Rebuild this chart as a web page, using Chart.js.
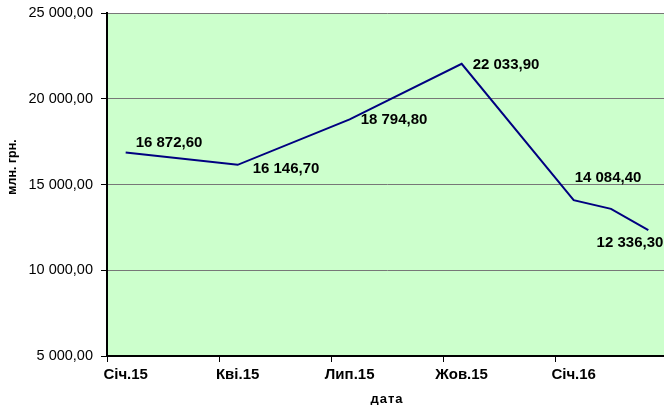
<!DOCTYPE html>
<html>
<head>
<meta charset="utf-8">
<script src="https://cdn.jsdelivr.net/npm/chart.js@4/dist/chart.umd.min.js"></script>
<style>
html,body{margin:0;padding:0;background:#fff;overflow:hidden;}
#wrap{width:667px;height:405px;position:relative;}
</style>
</head>
<body>
<div id="wrap"><canvas id="c"></canvas></div>
<script>
// Categories (months), only every third one is labelled on the axis
const months = ['Січ.15','Лют.15','Бер.15','Кві.15','Тра.15','Чер.15','Лип.15','Сер.15','Вер.15','Жов.15','Лис.15','Гру.15','Січ.16','Лют.16','Бер.16'];
// Series values, млн. грн. (null = no observation for that month)
const values = [16872.6, null, null, 16146.7, null, null, 18794.8, null, null, 22033.9, null, null, 14084.4, 13580, 12336.3];
// Which points carry a data label
const labelled = [true, false, false, true, false, false, true, false, false, true, false, false, true, false, true];
// Y axis ticks
const yTicks = [5000, 10000, 15000, 20000, 25000];

// label placement style (dx, dy, align) per point
const labelStyle = {
  0: [10, -10, 'left'],
  3: [15, 4, 'left'],
  6: [11, 0, 'left'],
  9: [11, 1, 'left'],
  12: [1, -22, 'left'],
  14: [15, 13, 'right']
};

function fmt(v, d) {
  const s = v.toFixed(d);
  let [i, f] = s.split('.');
  i = i.replace(/\B(?=(\d{3})+(?!\d))/g, ' ');
  return f ? i + ',' + f : i;
}

const FONT = '"Liberation Sans", Arial, sans-serif';

const bgPlugin = {
  id: 'bg',
  beforeDraw(chart) {
    const {ctx, chartArea: a} = chart;
    ctx.save();
    ctx.fillStyle = '#CCFFCC';
    ctx.fillRect(a.left, a.top, a.right - a.left, a.bottom - a.top);
    ctx.restore();
  }
};

const labelPlugin = {
  id: 'labels',
  afterDraw(chart) {
    const ctx = chart.ctx;
    const xs = chart.scales.x, ys = chart.scales.y;
    const a = chart.chartArea;
    ctx.save();
    // x-axis tick marks at category boundaries, every third month
    const step = xs.getPixelForValue(1) - xs.getPixelForValue(0);
    ctx.strokeStyle = '#000';
    ctx.lineWidth = 1;
    months.forEach((m, i) => {
      if (i % 3 !== 0) return;
      const x = Math.round(xs.getPixelForValue(i) - step / 2) + 0.5;
      ctx.beginPath();
      ctx.moveTo(x, a.bottom);
      ctx.lineTo(x, a.bottom + 6);
      ctx.stroke();
    });
    ctx.fillStyle = '#000';
    ctx.font = 'bold 15px ' + FONT;
    ctx.textBaseline = 'middle';
    values.forEach((v, i) => {
      if (v === null || !labelled[i]) return;
      const st = labelStyle[i] || [8, 0, 'left'];
      const x = xs.getPixelForValue(i);
      const y = ys.getPixelForValue(v);
      ctx.textAlign = st[2];
      ctx.fillText(fmt(v, 2), x + st[0], y + st[1]);
    });
    // axis titles
    ctx.font = 'bold 13px ' + FONT;
    ctx.textAlign = 'center';
    try { ctx.letterSpacing = '1px'; } catch (e) {}
    ctx.fillText('дата', (a.left + a.right) / 2, 399);
    try { ctx.letterSpacing = '0px'; } catch (e) {}
    ctx.font = 'bold 12.5px ' + FONT;
    ctx.translate(13, 167);
    ctx.rotate(-Math.PI / 2);
    ctx.fillText('млн. грн.', 0, 0);
    ctx.restore();
  }
};

new Chart(document.getElementById('c'), {
  type: 'line',
  data: {
    labels: months,
    datasets: [{
      data: values,
      borderColor: '#000080',
      borderWidth: 2,
      pointRadius: 0,
      pointHoverRadius: 0,
      tension: 0,
      spanGaps: true,
      fill: false
    }]
  },
  options: {
    responsive: true,
    maintainAspectRatio: false,
    animation: false,
    layout: {padding: {left: 0, right: 0, top: 13, bottom: 0}},
    plugins: {legend: {display: false}, tooltip: {enabled: false}},
    scales: {
      x: {
        type: 'category',
        offset: true,
        grid: {
          offset: true,
          drawOnChartArea: false,
          drawTicks: true,
          tickLength: 6,
          color: 'rgba(0,0,0,0)',
          tickColor: 'rgba(0,0,0,0)'
        },
        border: {color: '#000', width: 2},
        ticks: {
          autoSkip: false,
          maxRotation: 0,
          padding: 4,
          color: '#000',
          font: {family: FONT, size: 15, weight: 'bold'},
          callback(val, idx) { return idx % 3 === 0 ? months[idx] : ''; }
        },
        afterFit(scale) { scale.height = 49; scale.paddingLeft = 0; scale.paddingRight = 0; }
      },
      y: {
        min: yTicks[0],
        max: yTicks[yTicks.length - 1],
        afterBuildTicks(scale) { scale.ticks = yTicks.map(v => ({value: v})); },
        grid: {
          color: '#777777',
          lineWidth: 1,
          tickColor: '#000',
          tickLength: 6
        },
        border: {color: '#000', width: 2},
        ticks: {
          padding: 8,
          color: '#000',
          font: {family: FONT, size: 14.5},
          callback(v) { return fmt(v, 2); }
        },
        afterFit(scale) { scale.width = 107; scale.paddingTop = 0; scale.paddingBottom = 0; }
      }
    }
  },
  plugins: [bgPlugin, labelPlugin]
});
</script>
</body>
</html>
